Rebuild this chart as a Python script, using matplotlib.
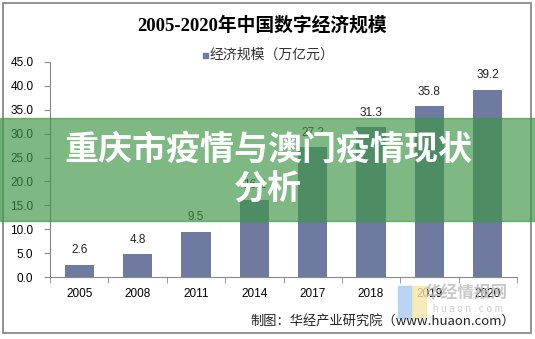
import matplotlib
matplotlib.use("Agg")
import matplotlib.pyplot as plt
from matplotlib.patches import Rectangle

plt.rcParams['font.family'] = ['Liberation Sans', 'Noto Sans CJK SC', 'DejaVu Sans']

# ----------------------------
# Data
# ----------------------------
years = ["2005", "2008", "2011", "2014", "2017", "2018", "2019", "2020"]
scale = [2.6, 4.8, 9.5, 16.2, 27.2, 31.3, 35.8, 39.2]
y_ticks = [0, 5, 10, 15, 20, 25, 30, 35, 40, 45]

title = "2005-2020年中国数字经济规模"
legend_label = "经济规模（万亿元）"
source = "制图：华经产业研究院（www.huaon.com）"
banner_lines = ["重庆市疫情与澳门疫情现状", "分析"]

bar_color = "#6F7AA0"
cjk = ['Noto Sans CJK SC', 'DejaVu Sans']

# ----------------------------
# Figure
# ----------------------------
W, H = 535, 339
fig = plt.figure(figsize=(W / 100, H / 100), dpi=100)
ax = fig.add_axes([50 / W, 1 - 277 / H, 467 / W, 215 / H])

x = range(len(years))
ax.bar(x, scale, width=0.5, color=bar_color, zorder=2)
for xi, v in zip(x, scale):
    ax.annotate(f"{v:.1f}", (xi, v), xytext=(0, 6), textcoords="offset points",
                ha="center", va="bottom", fontsize=8.5, color="#222222")

ax.set_xlim(-0.5, len(years) - 0.5)
ax.set_ylim(0, 45)
ax.set_yticks(y_ticks)
ax.set_yticklabels([f"{t:.1f}" for t in y_ticks], fontsize=8.5)
ax.set_xticks(list(x))
ax.set_xticklabels(years, fontsize=8.5)
ax.tick_params(axis="x", length=0, pad=8)
ax.set_xticks([i - 0.5 for i in range(len(years) + 1)], minor=True)
ax.tick_params(axis="x", which="minor", length=4, color="#888888")
ax.tick_params(axis="y", length=4, color="#888888", pad=8)
for s in ["top", "right"]:
    ax.spines[s].set_visible(False)
ax.spines["left"].set_color("#888888")
ax.spines["bottom"].set_color("#888888")

# title, legend, source
fig.text(262 / W, 1 - 25 / H, title, ha="center", va="center", fontsize=13.5,
         fontweight="bold", family=['Liberation Serif', 'Noto Sans CJK SC'])
fig.patches.append(Rectangle((203 / W, 1 - 58 / H), 5 / W, 5 / H,
                             transform=fig.transFigure, color=bar_color))
fig.text(210 / W, 1 - 55 / H, legend_label, ha="left", va="center",
         fontsize=10, family=cjk, color="#333333")
fig.text(515 / W, 1 - 321 / H, source, ha="right", va="center",
         fontsize=9.5, family=cjk, color="#222222")

# watermark
fig.patches.append(Rectangle((398 / W, 1 - 318 / H), 14 / W, 32 / H,
                             transform=fig.transFigure, color="#A9CBF2", alpha=0.8))
fig.patches.append(Rectangle((412 / W, 1 - 318 / H), 14 / W, 32 / H,
                             transform=fig.transFigure, color="#F6E7A8", alpha=0.8))
fig.text(466 / W, 1 - 294 / H, "华经情报网", ha="center", va="center",
         fontsize=12, family=cjk, color="#BBBBBB", alpha=0.8, fontweight="bold")
fig.text(468 / W, 1 - 309 / H, "h u a o n . c o m", ha="center", va="center",
         fontsize=7, color="#CCCCCC")

# border
fig.patches.append(Rectangle((3 / W, 1 - 333 / H), 528 / W, 330 / H,
                             transform=fig.transFigure, fill=False,
                             edgecolor="#808080", linewidth=1.2))

# green banner
fig.patches.append(Rectangle((0, 1 - 221 / H), 1, 103 / H,
                             transform=fig.transFigure, color="#3F9547",
                             alpha=0.67, zorder=10))
fig.text(268 / W, 1 - 149 / H, banner_lines[0], ha="center", va="center",
         fontsize=24.5, fontweight="heavy", family=cjk, color="white", zorder=11)
fig.text(268 / W, 1 - 189 / H, banner_lines[1], ha="center", va="center",
         fontsize=24.5, fontweight="heavy", family=cjk, color="white", zorder=11)

fig.savefig("out.png", dpi=100)
